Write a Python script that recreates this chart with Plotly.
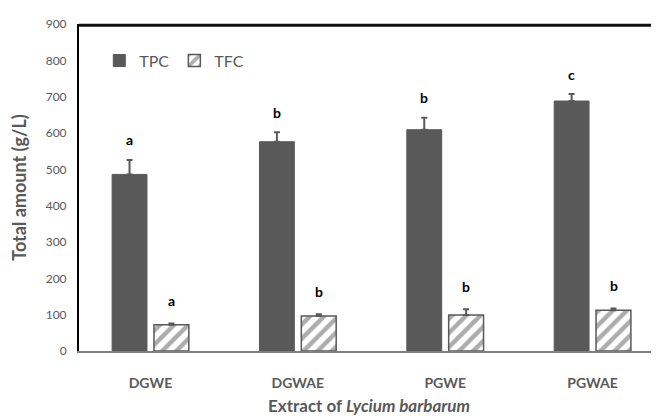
import plotly.graph_objects as go

categories = ["DGWE", "DGWAE", "PGWE", "PGWAE"]
tpc_values = [486, 576, 609, 688]
tpc_errors = [40, 26, 33, 19]
tfc_values = [72, 96, 99, 112]
tfc_errors = [4, 5, 16, 5]
tpc_letters = ["a", "b", "b", "c"]
tfc_letters = ["a", "b", "b", "b"]
y_ticks = [0, 100, 200, 300, 400, 500, 600, 700, 800, 900]

GRAY = "#595959"
FONT = "Lato, Open Sans, sans-serif"

fig = go.Figure()
fig.add_trace(go.Bar(
    name="TPC", x=categories, y=tpc_values,
    marker=dict(color=GRAY, line=dict(color=GRAY, width=1)),
    error_y=dict(type="data", array=tpc_errors, symmetric=False, arrayminus=[0]*4,
                 color=GRAY, thickness=2, width=3),
))
fig.add_trace(go.Bar(
    name="TFC", x=categories, y=tfc_values,
    marker=dict(color="white", line=dict(color=GRAY, width=1.5),
                pattern=dict(shape="/", fgcolor=GRAY, bgcolor="white", size=10, solidity=0.45)),
    error_y=dict(type="data", array=tfc_errors, symmetric=False, arrayminus=[0]*4,
                 color=GRAY, thickness=2, width=3),
))

for i, c in enumerate(categories):
    fig.add_annotation(x=c, y=tpc_values[i] + tpc_errors[i], text=f"<b>{tpc_letters[i]}</b>",
                       showarrow=False, xshift=-21, yshift=20,
                       font=dict(family=FONT, size=14, color="black"))
    fig.add_annotation(x=c, y=tfc_values[i] + tfc_errors[i], text=f"<b>{tfc_letters[i]}</b>",
                       showarrow=False, xshift=21, yshift=23,
                       font=dict(family=FONT, size=14, color="black"))

fig.update_layout(
    width=659, height=416,
    margin=dict(l=68.5, r=8, t=9, b=73),
    paper_bgcolor="white", plot_bgcolor="white",
    barmode="group", bargap=0.432, bargroupgap=1/6,
    font=dict(family=FONT, color=GRAY),
    showlegend=True,
    legend=dict(orientation="h", x=0.035, y=0.94, xanchor="left", yanchor="top",
                font=dict(family=FONT, size=16, color=GRAY), bgcolor="rgba(0,0,0,0)",
                itemwidth=30, tracegroupgap=0),
    xaxis=dict(range=[-0.485, 3.451], showline=True, linecolor="#808080", linewidth=2,
               ticks="", ticklabelstandoff=18, tickfont=dict(family=FONT, size=14, color=GRAY),
               tickvals=categories, ticktext=[f"<b>{c}</b>" for c in categories],
               title=dict(text="<b>Extract of <i>Lycium barbarum</i></b>",
                          font=dict(family=FONT, size=17, color=GRAY), standoff=10)),
    yaxis=dict(range=[0, 900], tickvals=y_ticks, showgrid=False, zeroline=False,
               showline=True, linecolor="black", linewidth=2, ticks="", ticklabelstandoff=8,
               tickfont=dict(family=FONT, size=12, color=GRAY),
               title=dict(text="<b>Total amount (g/L)</b>",
                          font=dict(family=FONT, size=18, color=GRAY), standoff=17)),
    shapes=[dict(type="line", xref="paper", yref="paper", x0=0, x1=1, y0=0.996, y1=0.996,
                 layer="above", line=dict(color="#111111", width=3))],
)

fig.write_html("out.html")
